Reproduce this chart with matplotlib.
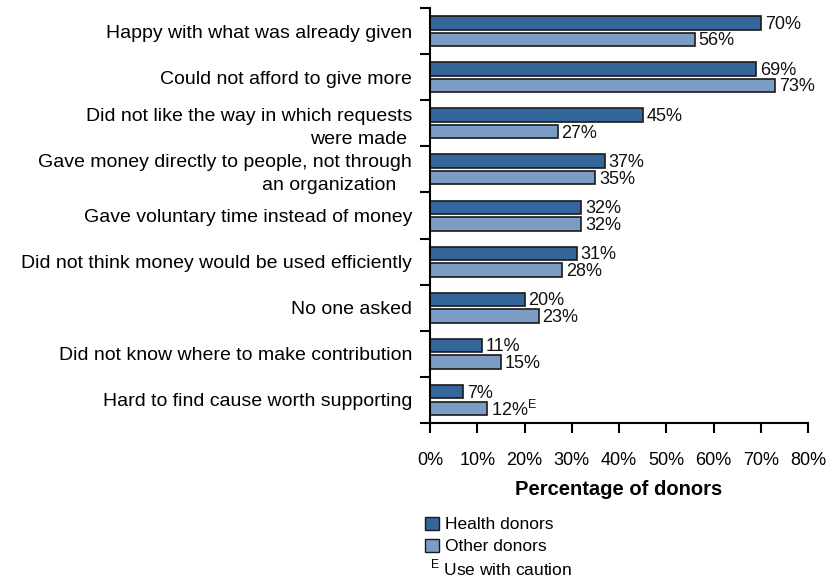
import numpy as np
import matplotlib.pyplot as plt
from matplotlib.patches import Patch

# 原因类别及两组捐赠者比例（%）
reasons = [
    "Happy with what was already given",
    "Could not afford to give more",
    "Did not like the way in which requests\nwere made ",
    "Gave money directly to people, not through\nan organization   ",
    "Gave voluntary time instead of money",
    "Did not think money would be used efficiently",
    "No one asked",
    "Did not know where to make contribution",
    "Hard to find cause worth supporting",
]
health_donors = [70, 69, 45, 37, 32, 31, 20, 11, 7]
other_donors = [56, 73, 27, 35, 32, 28, 23, 15, 12]
other_flags = ["", "", "", "", "", "", "", "", "E"]  # E = 谨慎使用
xticks = [0, 10, 20, 30, 40, 50, 60, 70, 80]

dark_color = '#35669b'
light_color = '#7b9dc5'

plt.rcParams['font.family'] = ['Liberation Sans', 'DejaVu Sans']

fig = plt.figure(figsize=(8.31, 5.77), dpi=100)
ax = fig.add_axes([0.5175, 0.2669, 0.455, 0.7191])

y = np.arange(len(reasons))
bar_h = 0.29
off = 0.18

bars_h = ax.barh(y - off, health_donors, height=bar_h, color=dark_color,
                 edgecolor='#1a1a1a', linewidth=1.2)
bars_o = ax.barh(y + off, other_donors, height=bar_h, color=light_color,
                 edgecolor='#1a1a1a', linewidth=1.2)

# 数据标签
for bar, v in zip(bars_h, health_donors):
    ax.text(v + 0.8, bar.get_y() + bar.get_height() / 2 + 0.03, f'{v}%',
            ha='left', va='center', fontsize=13, color='#111111')
for bar, v, flag in zip(bars_o, other_donors, other_flags):
    label = f'{v}%' + (r'$^{\mathregular{' + flag + '}}$' if flag else '')
    ax.text(v + 0.8, bar.get_y() + bar.get_height() / 2 + 0.03, label,
            ha='left', va='center', fontsize=13, color='#111111')

ax.set_xlim(0, 80)
ax.set_ylim(len(reasons) - 0.5, -0.5)

# y轴：刻度在类别边界，标签在类别中间
ax.set_yticks(np.arange(len(reasons) + 1) - 0.5)
ax.set_yticklabels([])
ax.set_yticks(y, minor=True)
ax.set_yticklabels(reasons, minor=True, fontsize=14, linespacing=1.4)
ax.tick_params(axis='y', which='major', length=7, width=1.5, direction='out')
ax.tick_params(axis='y', which='minor', length=0, pad=13)

ax.set_xticks(xticks)
ax.set_xticklabels([f'{t}%' for t in xticks], fontsize=13)
ax.tick_params(axis='x', length=7, width=1.5, direction='out', pad=14)

ax.set_xlabel('Percentage of donors', fontsize=14.5, fontweight='bold', labelpad=8)

for s in ['top', 'right']:
    ax.spines[s].set_visible(False)
for s in ['left', 'bottom']:
    ax.spines[s].set_linewidth(1.5)

# 图例
handles = [Patch(facecolor=dark_color, edgecolor='#1a1a1a', label='Health donors'),
           Patch(facecolor=light_color, edgecolor='#1a1a1a', label='Other donors')]
fig.legend(handles=handles, loc='upper left', bbox_to_anchor=(0.512, 0.1046),
           frameon=False, fontsize=12.5, handlelength=0.8, handleheight=0.8,
           handletextpad=0.3, labelspacing=0.37, borderpad=0, borderaxespad=0)
fig.text(0.517, 0.003, r'$^{\mathregular{E}}$ Use with caution', fontsize=12.5,
         ha='left', va='baseline')

fig.savefig('out.png', dpi=100)
